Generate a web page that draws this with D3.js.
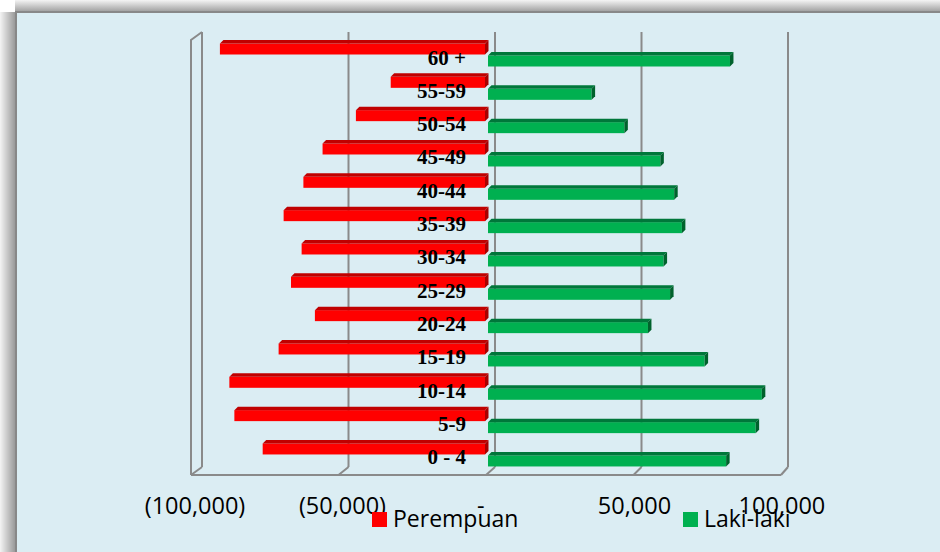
<!DOCTYPE html>
<html><head><meta charset="utf-8">
<script src="https://cdn.jsdelivr.net/npm/d3@7"></script>
<style>html,body{margin:0;padding:0;background:#fff;}svg{display:block;}</style>
</head><body>
<svg id="c" width="940" height="552"></svg>
<script>
// ---- data ----
const categories = ["0 - 4","5-9","10-14","15-19","20-24","25-29","30-34","35-39","40-44","45-49","50-54","55-59","60 +"];
const perempuan = [75700, 85300, 87000, 70300, 58000, 66100, 62500, 68600, 61900, 55400, 44100, 32300, 90200];
const lakiLaki  = [81400, 91400, 93500, 74100, 54900, 62400, 60200, 66400, 63800, 59100, 46900, 35800, 82700];
const tickValues = [-100000, -50000, 0, 50000, 100000];
const tickLabels = ["(100,000)", "(50,000)", "-\u00a0\u00a0\u00a0", "50,000\u00a0", "100,000\u00a0"];
const seriesNames = ["Perempuan", "Laki-laki"];
const seriesColors = ["#FF0000", "#00B050"];

const svg = d3.select("#c");

// ---- frame & shadow ----
const defs = svg.append("defs");
const gl = defs.append("linearGradient").attr("id","shL").attr("x1","0").attr("x2","1").attr("y1","0").attr("y2","0");
gl.append("stop").attr("offset","0").attr("stop-color","#f4f4f4");
gl.append("stop").attr("offset","1").attr("stop-color","#9a9a9a");
const gt = defs.append("linearGradient").attr("id","shT").attr("x1","0").attr("x2","0").attr("y1","0").attr("y2","1");
gt.append("stop").attr("offset","0").attr("stop-color","#f4f4f4");
gt.append("stop").attr("offset","1").attr("stop-color","#a4a4a4");
svg.append("rect").attr("x",0).attr("y",0).attr("width",940).attr("height",552).attr("fill","#fff");
svg.append("rect").attr("x",0).attr("y",12).attr("width",15).attr("height",540).attr("fill","url(#shL)");
svg.append("rect").attr("x",15).attr("y",0).attr("width",925).attr("height",11).attr("fill","url(#shT)");
svg.append("rect").attr("x",15).attr("y",11).attr("width",925).attr("height",541).attr("fill","#888888");
svg.append("rect").attr("x",17).attr("y",13).attr("width",923).attr("height",539).attr("fill","#DBEDF3");

// ---- scales ----
const xF = d3.scaleLinear().domain([-100000,100000]).range([191,781]); // front plane
const xB = d3.scaleLinear().domain([-100000,100000]).range([202,788]); // back wall
const xL = d3.scaleLinear().domain([-100000,100000]).range([195,785]); // tick label centres
const yBand = d3.scaleBand().domain(categories.slice().reverse()).range([40, 40 + 13*33.33]).paddingInner(0).paddingOuter(0);
const yBackTop = 32, yBackBot = 467, yFrontBot = 475, yFrontTop = 40;
const gridCol = "#8a8a8a";

// back gridlines
svg.append("g").selectAll("line").data(tickValues).join("line")
  .attr("x1", d => xB(d)).attr("x2", d => xB(d))
  .attr("y1", yBackTop).attr("y2", yBackBot)
  .attr("stroke", gridCol).attr("stroke-width", 2);
// floor lines
svg.append("g").selectAll("line").data(tickValues).join("line")
  .attr("x1", d => xB(d)).attr("y1", yBackBot)
  .attr("x2", d => xF(d)).attr("y2", yFrontBot)
  .attr("stroke", gridCol).attr("stroke-width", 2);
svg.append("line").attr("x1", xF(-100000)).attr("x2", xF(100000)).attr("y1", yFrontBot).attr("y2", yFrontBot)
  .attr("stroke", gridCol).attr("stroke-width", 2);
// left wall
svg.append("path").attr("d", `M${xF(-100000)},${yFrontBot} L${xF(-100000)},${yFrontTop} L${xB(-100000)},${yBackTop}`)
  .attr("fill","none").attr("stroke", gridCol).attr("stroke-width", 2);

// ---- bars ----
const d = 3.5, bh = 14.5;
function bar(g, x0, x1, y0, front, top, side) {
  g.append("rect").attr("x", x0).attr("y", y0 + d).attr("width", Math.max(0, x1 - x0)).attr("height", bh - d).attr("fill", front);
  g.append("path").attr("d", `M${x0},${y0+d} L${x0+d},${y0} L${x1+d},${y0} L${x1},${y0+d} Z`).attr("fill", top);
  g.append("path").attr("d", `M${x1},${y0+d} L${x1+d},${y0} L${x1+d},${y0+bh-d} L${x1},${y0+bh} Z`).attr("fill", side);
}
const bars = svg.append("g");
categories.forEach((c, i) => {
  const y0 = yBand(c);
  bar(bars, xF(-perempuan[i]), xF(0) - 1, y0, "#FF0000", "#C00000", "#A80000");
  bar(bars, xF(0) + 2, xF(lakiLaki[i]), y0 + 12, "#00B050", "#00773A", "#00622C");
});

// category labels
svg.append("g").selectAll("text").data(categories).join("text")
  .attr("x", 466).attr("y", c => yBand(c) + 24.5)
  .attr("text-anchor","end")
  .attr("font-family","'Liberation Serif', serif").attr("font-weight","bold").attr("font-size", 21)
  .attr("fill","#000").text(c => c);

// axis tick labels
svg.append("g").selectAll("text").data(tickValues).join("text")
  .attr("x", v => xL(v)).attr("y", 514)
  .attr("text-anchor","middle")
  .attr("font-family","'Open Sans', sans-serif").attr("font-size", 23.5)
  .attr("fill","#000").text((v, i) => tickLabels[i]);

// legend
const legX = [372, 683];
const leg = svg.append("g");
seriesNames.forEach((n, i) => {
  leg.append("rect").attr("x", legX[i]).attr("y", 512).attr("width", 15).attr("height", 15).attr("fill", seriesColors[i]);
  leg.append("text").attr("x", legX[i] + 21).attr("y", 527)
    .attr("font-family","'Open Sans', sans-serif").attr("font-size", 23)
    .attr("fill","#000").text(n);
});
</script>
</body></html>
